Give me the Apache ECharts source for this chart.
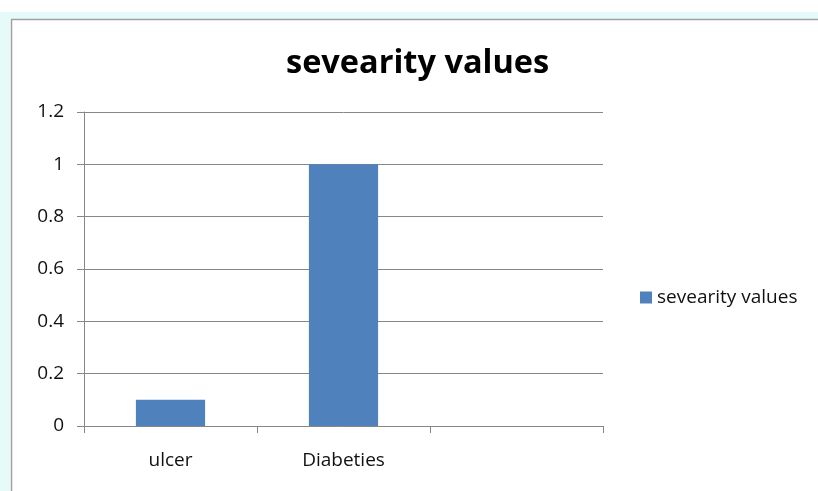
<!DOCTYPE html>
<html>
<head>
<meta charset="utf-8">
<script src="https://cdn.jsdelivr.net/npm/echarts@6/dist/echarts.min.js"></script>
<style>
html,body{margin:0;padding:0;background:#fff;}
#c{width:818px;height:491px;}
</style>
</head>
<body>
<div id="c"></div>
<script>
var categories = ['ulcer', 'Diabeties', ''];
var severityValues = [0.1, 1, '-'];
var seriesName = 'sevearity values';
var titleText = 'sevearity values';

var chart = echarts.init(document.getElementById('c'), null, {renderer: 'canvas'});
var font = '"Open Sans", Lato, sans-serif';
chart.setOption({
  animation: false,
  backgroundColor: '#ffffff',
  graphic: [
    {type: 'rect', shape: {x: 0, y: 12, width: 818, height: 7}, style: {fill: '#e6fafa'}, silent: true},
    {type: 'rect', shape: {x: 0, y: 12, width: 10, height: 479}, style: {fill: '#e6fafa'}, silent: true},
    {type: 'line', shape: {x1: 11, y1: 19.5, x2: 818, y2: 19.5}, style: {stroke: '#a0a0a0', lineWidth: 1.5}, silent: true},
    {type: 'line', shape: {x1: 11.5, y1: 19, x2: 11.5, y2: 491}, style: {stroke: '#a0a0a0', lineWidth: 1.5}, silent: true}
  ],
  title: {
    text: titleText,
    left: 281,
    top: 42,
    textStyle: {fontFamily: font, fontSize: 32.5, fontWeight: 'bold', color: '#000'}
  },
  legend: {
    data: [seriesName],
    left: 635,
    top: 283,
    itemWidth: 12,
    itemHeight: 12,
    icon: 'rect',
    itemGap: 6,
    itemStyle: {borderWidth: 0},
    textStyle: {fontFamily: font, fontSize: 19, color: '#111'}
  },
  grid: {left: 84, right: 215, top: 112, bottom: 65, containLabel: false},
  xAxis: {
    type: 'category',
    data: categories,
    boundaryGap: true,
    axisLine: {lineStyle: {color: '#878787', width: 1}},
    axisTick: {show: true, alignWithLabel: false, length: 7, lineStyle: {color: '#878787'}},
    axisLabel: {fontFamily: font, fontSize: 19, color: '#111', margin: 25}
  },
  yAxis: {
    type: 'value',
    min: 0,
    max: 1.2,
    interval: 0.2,
    axisLine: {show: true, lineStyle: {color: '#878787', width: 1}},
    axisTick: {show: true, length: 7, lineStyle: {color: '#878787'}},
    splitLine: {show: true, lineStyle: {color: '#878787', width: 1}},
    axisLabel: {fontFamily: font, fontSize: 19, color: '#111', margin: 20,
      formatter: function (v) { return String(Math.round(v * 10) / 10); }}
  },
  series: [{
    name: seriesName,
    type: 'bar',
    data: severityValues,
    barWidth: '40%',
    itemStyle: {color: '#4f81bd'}
  }]
});
</script>
</body>
</html>
